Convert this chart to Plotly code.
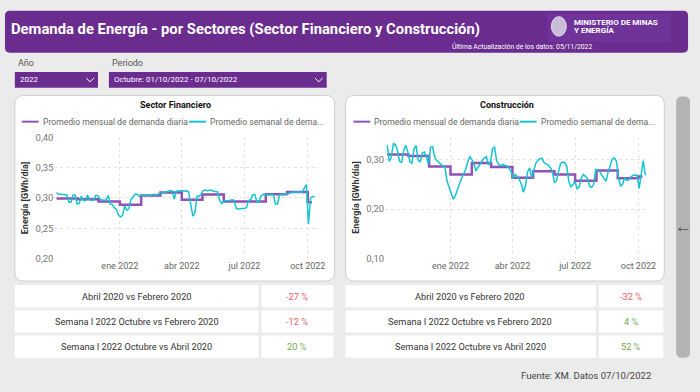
import pandas as pd
import plotly.graph_objects as go

W, H = 700, 392
FONT = "Roboto"

# ---------------- data ----------------
month_starts = ["2021-10-01", "2021-11-01", "2021-12-01", "2022-01-01", "2022-02-01", "2022-03-01",
                "2022-04-01", "2022-05-01", "2022-06-01", "2022-07-01", "2022-08-01", "2022-09-01",
                "2022-10-01"]
data_end = "2022-10-07"

fin_monthly = [0.299, 0.298, 0.294, 0.289, 0.304, 0.309, 0.297, 0.3055, 0.294, 0.294, 0.306, 0.310, 0.293]
con_monthly = [0.310, 0.307, 0.286, 0.270, 0.293, 0.285, 0.263, 0.2765, 0.270, 0.257, 0.278, 0.262, 0.266]

fin_weekly = [0.309, 0.306, 0.306, 0.306, 0.306, 0.305, 0.293, 0.293, 0.305, 0.305,
              0.290, 0.291, 0.303, 0.296, 0.296, 0.305, 0.297, 0.296, 0.297, 0.304,
              0.304, 0.298, 0.297, 0.296, 0.297, 0.304, 0.290, 0.289, 0.284, 0.281,
              0.272, 0.269, 0.271, 0.287, 0.280, 0.282, 0.297, 0.302, 0.306, 0.306,
              0.303, 0.304, 0.304, 0.305, 0.304, 0.305, 0.305, 0.306, 0.305, 0.306,
              0.307, 0.309, 0.309, 0.311, 0.311, 0.312, 0.312, 0.298, 0.311, 0.312,
              0.312, 0.312, 0.311, 0.312, 0.310, 0.290, 0.270, 0.275, 0.303, 0.303,
              0.306, 0.312, 0.313, 0.312, 0.312, 0.313, 0.311, 0.311, 0.310, 0.296,
              0.291, 0.295, 0.296, 0.296, 0.296, 0.297, 0.296, 0.283, 0.282, 0.282,
              0.282, 0.283, 0.284, 0.296, 0.297, 0.305, 0.306, 0.294, 0.293, 0.303,
              0.306, 0.305, 0.306, 0.305, 0.306, 0.305, 0.290, 0.290, 0.305, 0.306,
              0.306, 0.306, 0.307, 0.309, 0.309, 0.310, 0.309, 0.310, 0.309, 0.310,
              0.316, 0.322, 0.257, 0.300, 0.302, 0.303]

con_weekly = [0.329, 0.296, 0.305, 0.332, 0.330, 0.318, 0.296, 0.294, 0.318, 0.329,
              0.315, 0.296, 0.292, 0.322, 0.328, 0.299, 0.295, 0.313, 0.315, 0.305,
              0.290, 0.325, 0.326, 0.305, 0.298, 0.294, 0.290, 0.288, 0.283, 0.256,
              0.243, 0.230, 0.220, 0.227, 0.240, 0.250, 0.262, 0.270, 0.280, 0.295,
              0.306, 0.300, 0.292, 0.277, 0.285, 0.290, 0.298, 0.303, 0.306, 0.290,
              0.293, 0.322, 0.325, 0.298, 0.290, 0.287, 0.290, 0.288, 0.287, 0.283,
              0.275, 0.262, 0.270, 0.266, 0.260, 0.250, 0.234, 0.248, 0.275, 0.283,
              0.262, 0.278, 0.293, 0.298, 0.302, 0.302, 0.294, 0.291, 0.289, 0.284,
              0.276, 0.254, 0.257, 0.276, 0.292, 0.295, 0.294, 0.285, 0.255, 0.245,
              0.250, 0.255, 0.241, 0.245, 0.262, 0.270, 0.266, 0.262, 0.246, 0.244,
              0.250, 0.280, 0.278, 0.275, 0.268, 0.262, 0.256, 0.275, 0.290, 0.301,
              0.303, 0.297, 0.265, 0.246, 0.250, 0.263, 0.258, 0.259, 0.265, 0.268,
              0.269, 0.268, 0.242, 0.275, 0.298, 0.268]

x_tick_vals = ["2022-01-01", "2022-04-01", "2022-07-01", "2022-10-01"]
x_tick_text = ["ene 2022", "abr 2022", "jul 2022", "oct 2022"]
fin_y_ticks = [0.20, 0.25, 0.30, 0.35, 0.40]
fin_y_text = ["0,20", "0,25", "0,30", "0,35", "0,40"]
con_y_ticks = [0.10, 0.20, 0.30]
con_y_text = ["0,10", "0,20", "0,30"]

comparisons = ["Abril 2020 vs Febrero 2020",
               "Semana I 2022 Octubre vs Febrero 2020",
               "Semana I 2022 Octubre vs Abril 2020"]
fin_pct = [-27, -12, 20]
con_pct = [-32, 4, 52]

series_names = ["Promedio mensual de demanda diaria", "Promedio semanal de demanda diaria"]

# ---------------- style ----------------
BG = "#ebebeb"
PURPLE_HDR = "#6b2c8f"
PURPLE_LINE = "#8f52b5"
CYAN = "#14c4d1"
RED = "#ee5b66"
GREEN = "#73a84c"
GRID = "#e2e2e2"


def X(px):
    return px / W


def Y(py):
    return 1 - py / H


shapes = []
ann = []


def rrect(x0, y0, x1, y1, r, fill, line="rgba(0,0,0,0)", lw=0):
    p = (f"M {X(x0 + r)},{Y(y0)} L {X(x1 - r)},{Y(y0)} Q {X(x1)},{Y(y0)} {X(x1)},{Y(y0 + r)} "
         f"L {X(x1)},{Y(y1 - r)} Q {X(x1)},{Y(y1)} {X(x1 - r)},{Y(y1)} "
         f"L {X(x0 + r)},{Y(y1)} Q {X(x0)},{Y(y1)} {X(x0)},{Y(y1 - r)} "
         f"L {X(x0)},{Y(y0 + r)} Q {X(x0)},{Y(y0)} {X(x0 + r)},{Y(y0)} Z")
    shapes.append(dict(type="path", path=p, xref="paper", yref="paper", fillcolor=fill,
                       line=dict(color=line, width=lw), layer="below"))


def rect(x0, y0, x1, y1, fill, line="rgba(0,0,0,0)", lw=0):
    shapes.append(dict(type="rect", xref="paper", yref="paper", x0=X(x0), x1=X(x1), y0=Y(y1), y1=Y(y0),
                       fillcolor=fill, line=dict(color=line, width=lw), layer="below"))


def seg(x0, y0, x1, y1, color, w):
    shapes.append(dict(type="line", xref="paper", yref="paper", x0=X(x0), x1=X(x1), y0=Y(y0), y1=Y(y1),
                       line=dict(color=color, width=w)))


def text(x, y, s, size=9, color="#333", bold=False, anchor="left", family=FONT, angle=0):
    if bold:
        s = f"<b>{s}</b>"
    ann.append(dict(x=X(x), y=Y(y), xref="paper", yref="paper", text=s, showarrow=False,
                    xanchor=anchor, yanchor="middle", textangle=angle,
                    font=dict(size=size, color=color, family=family)))


# ---------------- header ----------------
rrect(5, 5, 695, 48, 5, PURPLE_HDR)
text(9, 24, "Demanda de Energía - por Sectores (Sector Financiero y Construcción)", size=14.8,
     color="white", bold=True)
rect(553, 8, 677, 37, "#70339a")
shapes.append(dict(type="circle", xref="paper", yref="paper", x0=X(557), x1=X(572), y0=Y(31), y1=Y(11),
                   fillcolor="#c9bcd6", line=dict(color="#e6e0ee", width=1), layer="above"))
text(578, 17, "MINISTERIO DE MINAS", size=8, color="white", bold=True)
text(578, 25.5, "Y ENERGÍA", size=8, color="white", bold=True)
text(600, 42, "Última Actualización de los datos: 05/11/2022", size=6.8, color="white", anchor="right")

# ---------------- filters ----------------
text(16, 59, "Año", size=9, color="#555")
text(111, 59, "Periodo", size=9, color="#555")
rect(15, 68, 99, 84, PURPLE_HDR)
rect(110, 68, 330, 84, PURPLE_HDR)
text(18, 76, "2022", size=8, color="white")
text(113, 76, "Octubre: 01/10/2022 - 07/10/2022", size=8, color="white")
for cx in (91, 322):
    shapes.append(dict(type="path", xref="paper", yref="paper",
                       path=f"M {X(cx - 4)},{Y(74)} L {X(cx)},{Y(78)} L {X(cx + 4)},{Y(74)}",
                       line=dict(color="white", width=1)))

# ---------------- cards ----------------
rrect(15, 92, 338, 283, 9, "white", "#cfcfcf", 1)
rrect(349, 92, 671, 283, 9, "white", "#cfcfcf", 1)
text(177, 102, "Sector Financiero", size=9, color="#111", bold=True, anchor="center")
text(512, 102, "Construcción", size=9, color="#111", bold=True, anchor="center")

for (p0, t0, c0, t1) in ((22, 41, 191, 210), (357, 376, 525, 544)):
    seg(p0, 119, p0 + 17, 119, PURPLE_LINE, 2)
    text(t0, 119, series_names[0], size=8.6, color="#666")
    seg(c0, 119, c0 + 17, 119, CYAN, 2)
    text(t1, 119, "Promedio semanal de dema...", size=8.6, color="#666")

text(26, 197, "Energía [GWh/día]", size=9, color="#333", bold=True, anchor="center", angle=-90)
text(360, 197, "Energía [GWh/día]", size=9, color="#333", bold=True, anchor="center", angle=-90)

# ---------------- tables ----------------
rows = [(287, 310), (313, 336), (339, 362)]
for (r0, r1), lab, fv, cv in zip(rows, comparisons, fin_pct, con_pct):
    rect(15, r0, 261, r1, "white")
    rect(264, r0, 337, r1, "white")
    rect(349, r0, 602, r1, "white")
    rect(605, r0, 670, r1, "white")
    cy = (r0 + r1) / 2
    text(138, cy, lab, size=9.2, color="#333", anchor="center")
    text(475, cy, lab, size=9.2, color="#333", anchor="center")
    text(300, cy, f"{fv} %", size=9.2, color=RED if fv < 0 else GREEN, anchor="center")
    text(637, cy, f"{cv} %", size=9.2, color=RED if cv < 0 else GREEN, anchor="center")

text(660, 380, "Fuente: XM. Datos 07/10/2022", size=9.5, color="#444", anchor="right")

# ---------------- scrollbar ----------------
rrect(683, 93, 697, 362, 6, "#b3b3b3")
text(690, 226, "←", size=17, color="#555", anchor="center")

# ---------------- traces ----------------
fig = go.Figure()
week_dates = pd.date_range("2021-10-01", periods=len(fin_weekly), freq="3D")
m_x = list(pd.to_datetime(month_starts)) + [pd.Timestamp(data_end)]

for k, (mv, wv) in enumerate(((fin_monthly, fin_weekly), (con_monthly, con_weekly))):
    xa = "x" if k == 0 else "x2"
    ya = "y" if k == 0 else "y2"
    fig.add_trace(go.Scatter(x=m_x, y=mv + [mv[-1]], mode="lines", line=dict(color=PURPLE_LINE, width=2.5, shape="hv"),
                             name=series_names[0], xaxis=xa, yaxis=ya, showlegend=False))
    fig.add_trace(go.Scatter(x=week_dates, y=wv, mode="lines", line=dict(color=CYAN, width=1.5),
                             name=series_names[1], xaxis=xa, yaxis=ya, showlegend=False))

x_range = ["2021-09-28", "2022-10-17"]
common_x = dict(type="date", range=x_range, tickvals=x_tick_vals, ticktext=x_tick_text, showgrid=True,
                gridcolor=GRID, griddash="dot", gridwidth=1, zeroline=False, showline=False, ticks="",
                tickfont=dict(size=9, color="#666", family=FONT))
common_y = dict(showgrid=True, gridcolor=GRID, griddash="dot", gridwidth=1, zeroline=False, showline=False,
                ticks="", tickfont=dict(size=9.5, color="#777", family=FONT))

fig.update_layout(
    width=W, height=H, margin=dict(l=0, r=0, t=0, b=0),
    paper_bgcolor=BG, plot_bgcolor="rgba(0,0,0,0)",
    xaxis=dict(domain=[X(55), X(322)], anchor="y", **common_x),
    yaxis=dict(domain=[Y(260), Y(135)], anchor="x", range=[0.20, 0.40], tickvals=fin_y_ticks,
               ticktext=fin_y_text, **common_y),
    xaxis2=dict(domain=[X(389), X(656)], anchor="y2", **common_x),
    yaxis2=dict(domain=[Y(260), Y(135)], anchor="x2", range=[0.10, 0.345], tickvals=con_y_ticks,
                ticktext=con_y_text, **common_y),
    shapes=shapes, annotations=ann, showlegend=False,
    font=dict(family=FONT),
)

fig.write_html("out.html", config={"displayModeBar": False},
               post_script=("document.documentElement.style.overflow='hidden';"
                            "document.body.style.overflow='hidden';"
                            "document.body.style.margin='0';document.body.style.background='#ebebeb';"))
